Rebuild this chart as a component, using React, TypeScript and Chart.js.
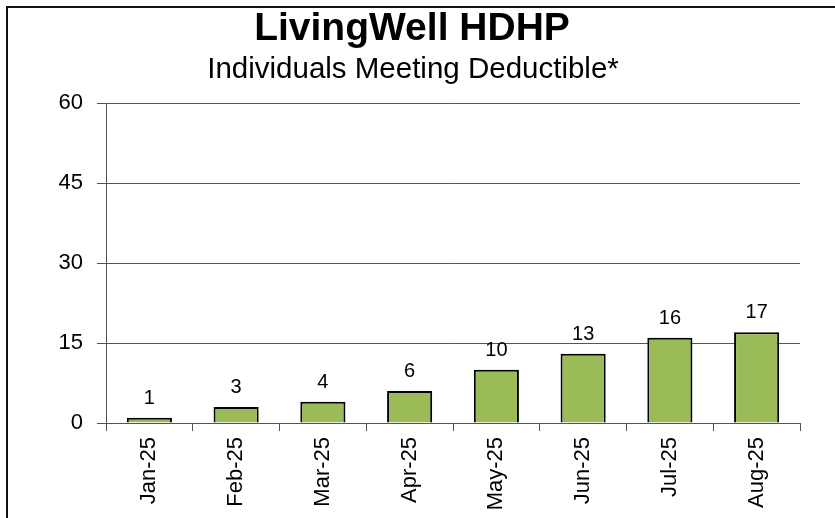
import React, { useEffect, useRef } from "react";
import { Chart, registerables } from "chart.js";

Chart.register(...registerables);

const TITLE = "LivingWell HDHP";
const SUBTITLE = "Individuals Meeting Deductible*";
const CATEGORIES = ["Jan-25", "Feb-25", "Mar-25", "Apr-25", "May-25", "Jun-25", "Jul-25", "Aug-25"];
const VALUES = [1, 3, 4, 6, 10, 13, 16, 17];
const Y_MIN = 0;
const Y_MAX = 60;
const Y_STEP = 15;

const FONT = "'Liberation Sans', Arial, sans-serif";

const framePlugin = {
  id: "frameAndTitles",
  afterDraw(chart: any) {
    const ctx = chart.ctx;
    ctx.save();
    // outer frame (left and top edges visible)
    ctx.strokeStyle = "#111";
    ctx.lineWidth = 2;
    ctx.beginPath();
    ctx.moveTo(7, 540);
    ctx.lineTo(7, 7);
    ctx.lineTo(840, 7);
    ctx.stroke();
    // titles
    ctx.fillStyle = "#000";
    ctx.textAlign = "center";
    ctx.textBaseline = "alphabetic";
    ctx.font = `bold 39px ${FONT}`;
    ctx.fillText(TITLE, 412, 40);
    ctx.font = `29.5px ${FONT}`;
    ctx.fillText(SUBTITLE, 413, 78);
    // data labels
    const meta = chart.getDatasetMeta(0);
    ctx.font = `20px ${FONT}`;
    meta.data.forEach((bar: any, i: number) => {
      ctx.fillText(String(VALUES[i]), bar.x, bar.y - 14);
    });
    ctx.restore();
  },
};

export default function App() {
  const ref = useRef<HTMLCanvasElement | null>(null);
  useEffect(() => {
    document.body.style.margin = "0";
    if (!ref.current) return;
    const chart = new Chart(ref.current, {
      type: "bar",
      data: {
        labels: CATEGORIES,
        datasets: [
          {
            data: VALUES,
            backgroundColor: "#9BBB59",
            borderColor: "#000000",
            borderWidth: 2,
            categoryPercentage: 1,
            barPercentage: 0.52,
          },
        ],
      },
      options: {
        responsive: false,
        animation: false,
        devicePixelRatio: 1,
        layout: { padding: { top: 103, right: 35, left: 0, bottom: 0 } },
        plugins: {
          legend: { display: false },
          title: { display: false },
          tooltip: { enabled: false },
        },
        scales: {
          x: {
            afterFit: (s: any) => {
              s.height = 95;
            },
            grid: {
              offset: true,
              drawOnChartArea: false,
              drawTicks: true,
              tickLength: 8,
              color: "#555",
            },
            border: { display: true, color: "#555", width: 1 },
            ticks: {
              minRotation: 90,
              maxRotation: 90,
              padding: 6,
              color: "#000",
              font: { family: FONT, size: 22 },
              autoSkip: false,
            },
          },
          y: {
            min: Y_MIN,
            max: Y_MAX,
            afterFit: (s: any) => {
              s.width = 106;
            },
            grid: {
              color: "#555",
              lineWidth: 1,
              drawTicks: true,
              tickLength: 9,
            },
            border: { display: true, color: "#555", width: 1 },
            ticks: {
              stepSize: Y_STEP,
              padding: 14,
              color: "#000",
              font: { family: FONT, size: 22 },
            },
          },
        },
      },
      plugins: [framePlugin],
    });
    return () => chart.destroy();
  }, []);
  return (
    <div style={{ width: 835, height: 518, position: "relative", background: "#fff" }}>
      <canvas ref={ref} width={835} height={518} style={{ width: 835, height: 518, display: "block" }} />
    </div>
  );
}
